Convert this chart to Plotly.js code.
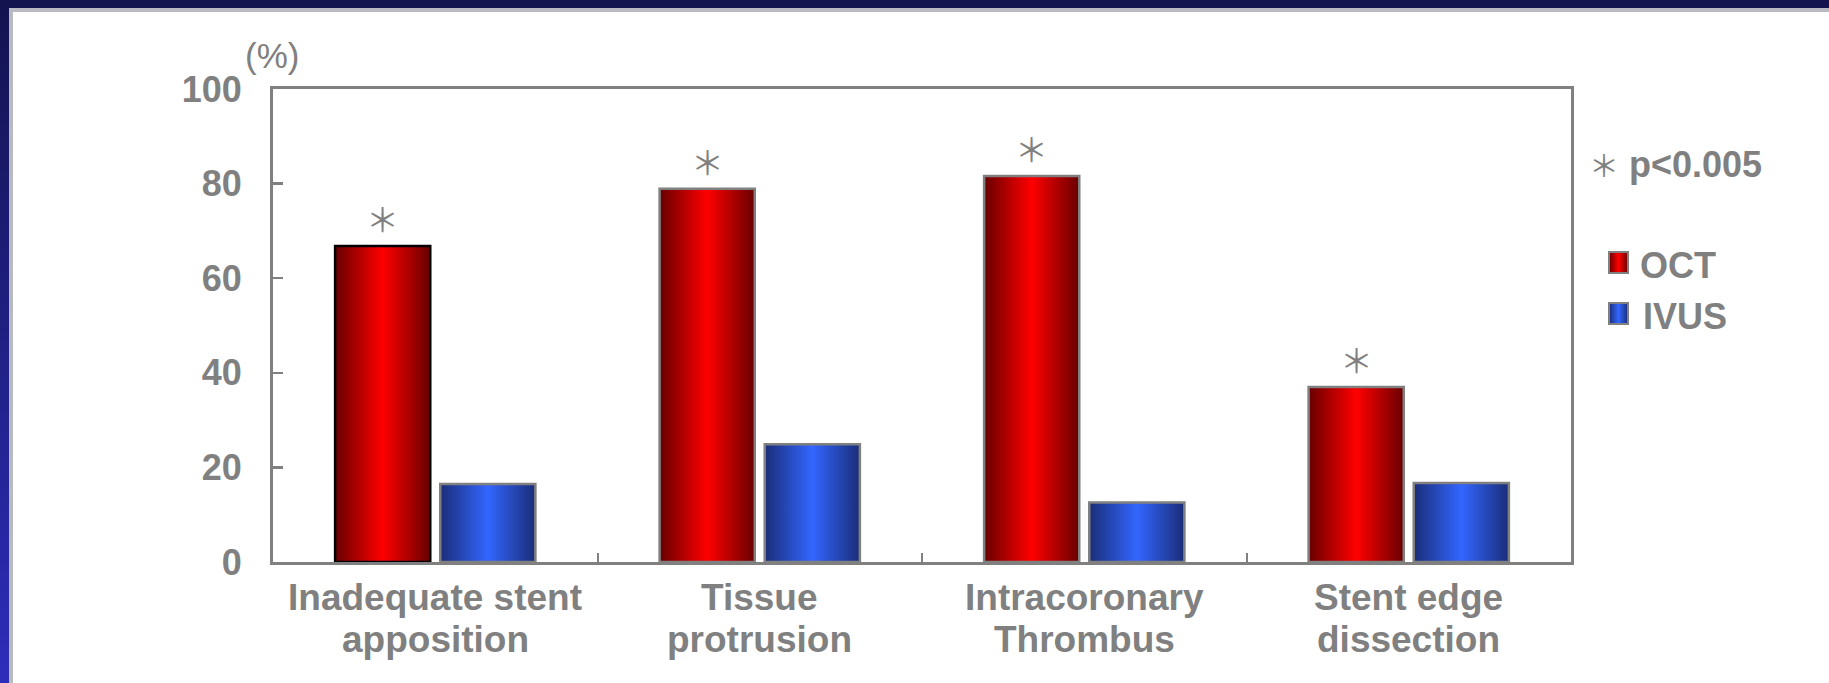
<!DOCTYPE html>
<html>
<head>
<meta charset="utf-8">
<script src="https://cdn.plot.ly/plotly-3.0.1.min.js"></script>
<style>
  html, body { margin: 0; padding: 0; width: 1829px; height: 683px; overflow: hidden; }
  body { position: relative; background: linear-gradient(to bottom, #13134f 0%, #2d2dba 100%); }
  #panel { position: absolute; left: 9px; top: 8px; right: 0; bottom: 0; background: #ffffff;
           border-left: 4px solid #b9b9c2; border-top: 4px solid #b9b9c2; }
  #chart { position: absolute; left: 0; top: 0; width: 1829px; height: 683px; }
</style>
</head>
<body>
<div id="panel"></div>
<div id="chart"></div>
<script>
// ---- data ----
const categoryLines = [
  ["Inadequate stent", "apposition"],
  ["Tissue", "protrusion"],
  ["Intracoronary", "Thrombus"],
  ["Stent edge", "dissection"]
];
const categories = categoryLines.map(l => l.join(" "));
const octValues  = [66.8, 78.9, 81.6, 37.0];
const ivusValues = [16.5, 24.9, 12.6, 16.7];
const octSignificant = [true, true, true, true];
const yTickValues = [0, 20, 40, 60, 80, 100];
const seriesNames = ["OCT", "IVUS"];
const pNote = "p&lt;0.005";

// ---- layout geometry ----
const W = 1829, H = 683;
const M = { l: 273, r: 258, t: 89, b: 121 };
const plotW = W - M.l - M.r, plotH = H - M.t - M.b;
const BARGAP = 0.352, BARGROUPGAP = 0.095;
const px2x = px => (px - M.l) / plotW;
const px2y = py => (H - M.b - py) / plotH;

const GREY = "#808080";
const FONT = "Liberation Sans, Arial, sans-serif";
const STAR_FONT = "Noto Sans CJK JP, DejaVu Sans, sans-serif";

const traces = [
  {
    type: "bar", name: seriesNames[0], x: categories, y: octValues,
    marker: { color: "#ff0000",
              line: { color: octValues.map((v, i) => i === 0 ? "#000000" : GREY), width: 2.5 } },
    showlegend: false, hoverinfo: "skip"
  },
  {
    type: "bar", name: seriesNames[1], x: categories, y: ivusValues,
    marker: { color: "#3366ff", line: { color: GREY, width: 2.5 } },
    showlegend: false, hoverinfo: "skip"
  }
];

// half of the distance between the two bars of one group, in pixels
const slot = plotW / categories.length;
const barOffset = slot * (1 - BARGAP) / 4;

const annotations = [];
// two-line category labels under the axis
categories.forEach((c, i) => {
  categoryLines[i].forEach((line, k) => {
    annotations.push({
      xref: "x", yref: "paper", x: c, y: 0, xanchor: "center", yanchor: "middle",
      yshift: k === 0 ? -35.5 : -77, showarrow: false, text: line,
      font: { family: FONT, size: 37, color: GREY, weight: "bold" }
    });
  });
});
// significance marks above OCT bars
octValues.forEach((v, i) => {
  if (!octSignificant[i]) return;
  annotations.push({
    xref: "x", yref: "y", x: categories[i], y: v, xanchor: "center", yanchor: "middle",
    xshift: -barOffset, yshift: 28, showarrow: false, text: "＊",
    font: { family: STAR_FONT, size: 33, color: GREY }
  });
});
// unit label
annotations.push({
  xref: "paper", yref: "paper", x: px2x(272), y: 1, xanchor: "center", yanchor: "middle",
  yshift: 34, showarrow: false, text: "(%)",
  font: { family: FONT, size: 35, color: GREY }
});
// p-value note
annotations.push({
  xref: "paper", yref: "paper", x: px2x(1587), y: px2y(164), xanchor: "left", yanchor: "middle",
  showarrow: false, text: "<span style=\"font-family:Noto Sans CJK JP;font-size:30px\">＊</span> <b>" + pNote + "</b>",
  font: { family: FONT, size: 36, color: GREY }
});
// legend labels
[[1638, 265], [1641, 316]].forEach((p, i) => {
  annotations.push({
    xref: "paper", yref: "paper", x: px2x(p[0]), y: px2y(p[1]), xanchor: "left", yanchor: "middle",
    showarrow: false, text: seriesNames[i],
    font: { family: FONT, size: 36, color: GREY, weight: "bold" }
  });
});

// legend swatches
const shapes = [[252, 273], [303, 324]].map((yy, i) => ({
  type: "rect", xref: "paper", yref: "paper",
  x0: px2x(1609), x1: px2x(1628), y0: px2y(yy[1]), y1: px2y(yy[0]),
  fillcolor: i === 0 ? "#ff0000" : "#3366ff", line: { color: GREY, width: 2 }
}));

const layout = {
  width: W, height: H,
  margin: M,
  paper_bgcolor: "rgba(0,0,0,0)",
  plot_bgcolor: "#ffffff",
  barmode: "group", bargap: BARGAP, bargroupgap: BARGROUPGAP,
  showlegend: false,
  font: { family: FONT, color: GREY },
  xaxis: {
    type: "category", range: [-0.5, categories.length - 0.5],
    showticklabels: false, ticks: "inside", tickson: "boundaries", ticklen: 9,
    tickwidth: 2, tickcolor: GREY,
    showline: true, linecolor: GREY, linewidth: 3, mirror: true,
    showgrid: false, zeroline: false, fixedrange: true
  },
  yaxis: {
    range: [0, 100], tickvals: yTickValues, ticktext: yTickValues.map(String),
    ticks: "inside", ticklen: 10, tickwidth: 2.5, tickcolor: GREY,
    ticklabelstandoff: 21,
    tickfont: { family: FONT, size: 36, color: GREY, weight: "bold" },
    showline: true, linecolor: GREY, linewidth: 3, mirror: true,
    showgrid: false, zeroline: false, fixedrange: true
  },
  annotations: annotations,
  shapes: shapes
};

// horizontal "cylinder" shading for the bars and swatches
function addGradient(svg, id, edge, mid) {
  let defs = svg.querySelector("defs");
  if (!defs) { defs = document.createElementNS("http://www.w3.org/2000/svg", "defs"); svg.prepend(defs); }
  if (svg.querySelector("#" + id)) return;
  const g = document.createElementNS("http://www.w3.org/2000/svg", "linearGradient");
  g.setAttribute("id", id);
  g.setAttribute("x1", "0"); g.setAttribute("x2", "1"); g.setAttribute("y1", "0"); g.setAttribute("y2", "0");
  [[0, edge], [0.5, mid], [1, edge]].forEach(s => {
    const st = document.createElementNS("http://www.w3.org/2000/svg", "stop");
    st.setAttribute("offset", s[0]); st.setAttribute("stop-color", s[1]);
    g.appendChild(st);
  });
  defs.appendChild(g);
}

function shade(gd) {
  const svg = gd.querySelector(".main-svg");
  addGradient(svg, "shade-oct", "#680000", "#ff0000");
  addGradient(svg, "shade-ivus", "#1a2d78", "#3366ff");
  const ids = ["shade-oct", "shade-ivus"];
  gd.querySelectorAll(".barlayer .trace").forEach((t, i) => {
    t.querySelectorAll("path").forEach(p => { p.style.fill = "url(#" + ids[i] + ")"; });
  });
  gd.querySelectorAll(".shapelayer path").forEach((p, i) => {
    if (ids[i]) p.style.fill = "url(#" + ids[i] + ")";
  });
}

const gd = document.getElementById("chart");
Plotly.newPlot(gd, traces, layout, { staticPlot: true }).then(() => {
  shade(gd);
  gd.on && gd.on("plotly_afterplot", () => shade(gd));
});
</script>
</body>
</html>
